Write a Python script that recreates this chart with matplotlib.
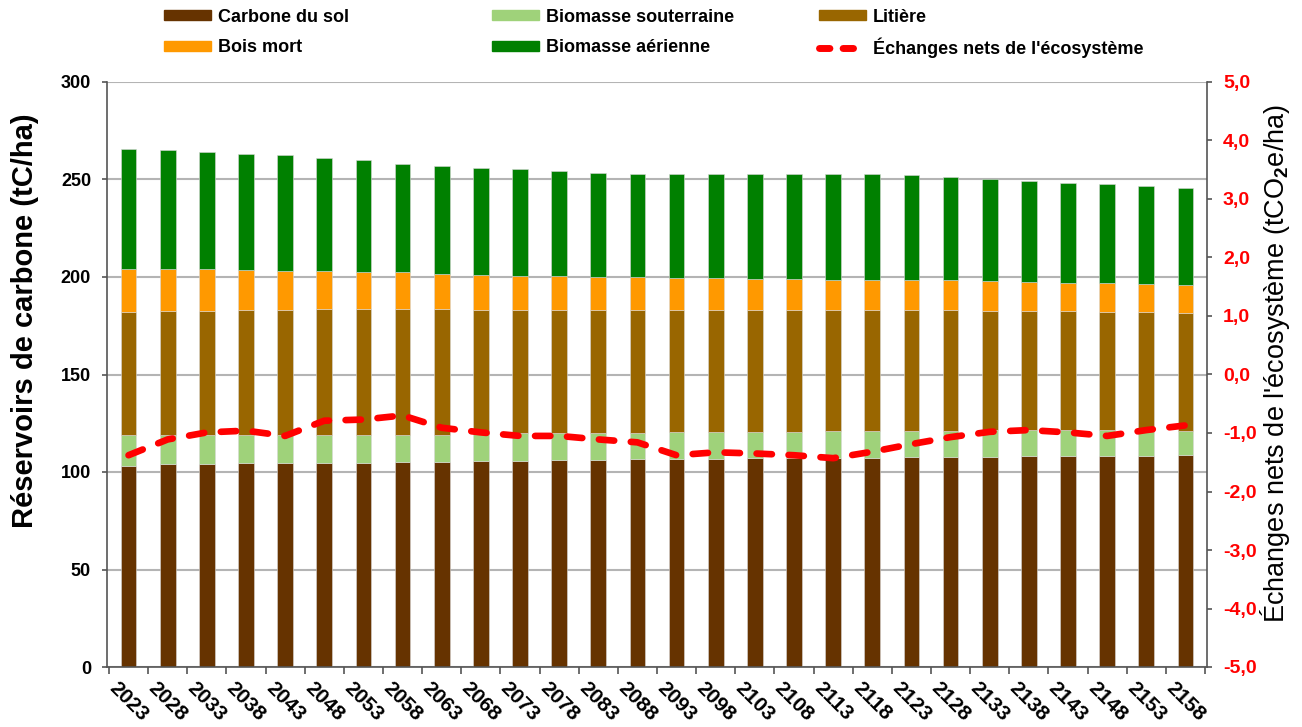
import matplotlib.pyplot as plt
import numpy as np
from matplotlib.lines import Line2D
from matplotlib.patches import Patch
from matplotlib.ticker import FuncFormatter

plt.rcParams['font.family'] = ['Liberation Sans', 'DejaVu Sans']
plt.rcParams['font.weight'] = 'bold'
plt.rcParams['mathtext.fontset'] = 'custom'
plt.rcParams['mathtext.rm'] = 'Liberation Sans'
plt.rcParams['mathtext.default'] = 'rm'

# === DATA ===
years = [str(y) for y in range(2023, 2159, 5)]

# cumulative tops of each layer (tC/ha)
top_sol = [103.2, 103.9, 103.9, 104.4, 104.4, 104.8, 104.8, 105.3, 105.3, 105.6,
           105.6, 106.2, 106.2, 106.5, 106.8, 106.8, 107.0, 107.3, 107.3, 107.3,
           107.9, 107.9, 107.9, 108.2, 108.2, 108.2, 108.2, 108.7]
top_sout = [119.0, 119.0, 119.0, 119.0, 119.0, 119.0, 119.0, 119.0, 119.0, 119.5,
            119.8, 119.8, 119.8, 119.8, 120.3, 120.3, 120.7, 120.7, 121.2, 121.2,
            121.2, 121.2, 121.5, 121.5, 121.5, 121.5, 121.5, 121.2]
top_lit = [181.9, 182.4, 182.7, 183.2, 183.2, 183.6, 183.6, 183.6, 183.6, 183.2,
           183.2, 183.2, 183.2, 183.2, 183.2, 183.2, 183.2, 183.2, 183.2, 183.2,
           183.2, 183.2, 182.7, 182.7, 182.4, 181.9, 181.9, 181.5]
top_bois = [204.1, 204.1, 204.1, 203.7, 203.2, 203.2, 202.7, 202.4, 201.5, 201.0,
            200.7, 200.7, 200.2, 199.8, 199.3, 199.3, 198.8, 198.8, 198.3, 198.3,
            198.5, 198.5, 197.9, 197.4, 196.9, 196.9, 196.6, 196.1]
top_aer = [265.5, 265.0, 264.1, 263.2, 262.4, 261.0, 259.8, 257.9, 257.1, 256.1,
           255.2, 254.4, 253.5, 253.0, 253.0, 252.6, 252.6, 252.6, 252.6, 252.6,
           252.1, 251.3, 250.3, 249.1, 248.2, 247.7, 246.8, 245.5]

# net ecosystem exchanges (tCO2e/ha)
echanges = [-1.38, -1.11, -0.99, -0.96, -1.05, -0.79, -0.77, -0.70, -0.91, -0.99,
            -1.05, -1.05, -1.11, -1.16, -1.38, -1.33, -1.35, -1.38, -1.43, -1.32,
            -1.19, -1.07, -0.98, -0.95, -0.99, -1.05, -0.95, -0.87]

carbone_sol = np.array(top_sol)
biomasse_sout = np.array(top_sout) - np.array(top_sol)
litiere = np.array(top_lit) - np.array(top_sout)
bois_mort = np.array(top_bois) - np.array(top_lit)
biomasse_aer = np.array(top_aer) - np.array(top_bois)

colors = {
    'sol': '#663300',
    'sout': '#9FD27A',
    'lit': '#996600',
    'bois': '#FF9900',
    'aer': '#008000',
}

# === PLOT ===
fig = plt.figure(figsize=(13.02, 7.27), dpi=100)
ax = fig.add_axes([107 / 1302, 1 - 667 / 727, 1100 / 1302, 585 / 727])
x = np.arange(len(years))
w = 0.4

bottom = np.zeros(len(years))
for vals, key in [(carbone_sol, 'sol'), (biomasse_sout, 'sout'), (litiere, 'lit'),
                  (bois_mort, 'bois'), (biomasse_aer, 'aer')]:
    ax.bar(x, vals, width=w, bottom=bottom, color=colors[key],
           edgecolor='#d8d8d8', linewidth=0.4, zorder=2)
    bottom += vals

ax.set_xlim(-0.55, len(years) - 0.45)
ax.set_ylim(0, 300)
ax.set_yticks(np.arange(0, 301, 50))
ax.yaxis.grid(True, color='#b4b4b4', linewidth=1.5, zorder=0)
ax.set_axisbelow(True)
ax.set_xticks(x)
ax.set_xticklabels(years, rotation=-45, ha='center', va='top', fontsize=15)
ax.set_xticks(np.arange(-0.5, len(years), 1), minor=True)
ax.tick_params(axis='x', which='major', length=0, pad=8)
ax.tick_params(axis='x', which='minor', length=5, color='#555555', width=1.2)
ax.tick_params(axis='y', labelsize=13, length=3.5, color='#555555', width=1.2, pad=8)
ax.set_ylabel("Réservoirs de carbone (tC/ha)", fontsize=21, fontweight='bold')
ax.yaxis.set_label_coords(-0.062, (667 - 321) / 585)
for s in ['top', 'right']:
    ax.spines[s].set_visible(False)
for s in ['left', 'bottom']:
    ax.spines[s].set_color('#555555')
    ax.spines[s].set_linewidth(1.2)

ax2 = ax.twinx()
ax2.plot(x, echanges, color='#FF0000', linewidth=4.8, linestyle=(0, (2.3, 2.5)),
         dash_capstyle='round', zorder=5)
ax2.set_ylim(-5, 5)
ax2.set_yticks(np.arange(-5, 5.1, 1))
ax2.yaxis.set_major_formatter(FuncFormatter(lambda v, p: f"{v:.1f}".replace('.', ',')))
ax2.tick_params(axis='y', labelsize=14, labelcolor='#FF0000', length=3.5,
                color='#555555', width=1.2, pad=8)
ax2.set_ylabel(r"Échanges nets de l'écosystème (tCO$_2$e/ha)", fontsize=19.5,
               fontweight='normal')
ax2.yaxis.set_label_coords(1.046, (667 - 363) / 585)
for s in ['top', 'left', 'bottom']:
    ax2.spines[s].set_visible(False)
ax2.spines['right'].set_color('#555555')
ax2.spines['right'].set_linewidth(1.2)

# === LEGEND (one entry per legend, placed by hand) ===
leg_items = [
    (164, 17, Patch(color=colors['sol']), "Carbone du sol"),
    (164, 48, Patch(color=colors['bois']), "Bois mort"),
    (492, 17, Patch(color=colors['sout']), "Biomasse souterraine"),
    (492, 48, Patch(color=colors['aer']), "Biomasse aérienne"),
    (819, 17, Patch(color=colors['lit']), "Litière"),
    (819, 48, Line2D([0], [0], color='#FF0000', linewidth=5, linestyle=(0, (1.5, 1.9)),
                     dash_capstyle='round'), "Échanges nets de l'écosystème"),
]
for xpos, ypos, handle, label in leg_items:
    fig.legend([handle], [label], loc='center left',
               bbox_to_anchor=(xpos / 1302, 1 - ypos / 727),
               frameon=False, fontsize=13, handlelength=2.6, handleheight=0.5,
               handletextpad=0.4, borderpad=0, borderaxespad=0)

fig.savefig("out.png", dpi=100)
